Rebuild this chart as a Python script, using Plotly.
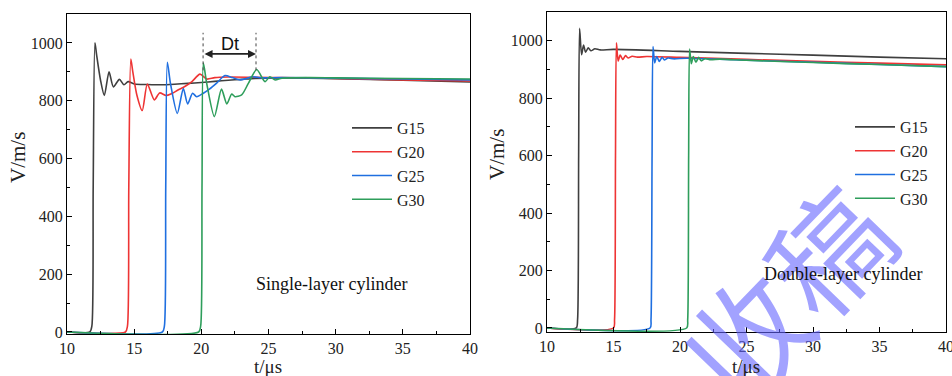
import plotly.graph_objects as go

# ---------------- data ----------------
# Single-layer cylinder
s_g15_t = [10, 11.7, 11.85, 11.95, 12.08, 12.2, 12.5, 12.78, 13.13, 13.45, 13.9, 14.24, 14.55, 15.0, 16, 17, 18, 19, 20, 21, 22, 23, 24, 26, 28, 30, 35, 40]
s_g15_v = [0, 0, 20, 500, 1000, 960, 870, 818, 900, 848, 874, 855, 866, 858, 856, 855, 857, 860, 863, 867, 871, 874, 877, 879, 878, 876, 871, 865]

s_g20_t = [10, 14.35, 14.5, 14.6, 14.75, 14.9, 15.2, 15.6, 15.98, 16.5, 16.9, 17.37, 17.8, 18.26, 18.8, 19.3, 19.9, 20.4, 21, 22, 24, 26, 30, 35, 40]
s_g20_v = [0, 0, 20, 500, 944, 900, 820, 766, 858, 803, 827, 818, 825, 837, 850, 866, 892, 875, 880, 882, 881, 880, 877, 872, 868]

s_g25_t = [10, 17.1, 17.25, 17.35, 17.47, 17.7, 18.21, 18.66, 18.98, 19.35, 19.65, 20.15, 20.6, 21.14, 21.76, 22.3, 22.88, 23.3, 23.75, 24.5, 26, 30, 35, 40]
s_g25_v = [0, 0, 20, 500, 933, 860, 756, 842, 789, 826, 814, 826, 840, 861, 887, 880, 872, 876, 883, 879, 880, 878, 875, 872]

s_g30_t = [10, 19.8, 19.95, 20.05, 20.15, 20.4, 20.97, 21.5, 21.9, 22.26, 22.5, 23.0, 23.5, 24.12, 24.74, 25.1, 25.5, 26, 28, 30, 35, 40]
s_g30_v = [0, 0, 20, 500, 930, 860, 745, 840, 789, 823, 814, 820, 860, 908, 866, 883, 872, 878, 880, 879, 877, 875]

# Double-layer cylinder
d_g15_t = [10, 12.2, 12.3, 12.38, 12.45, 12.6, 12.75, 12.9, 13.1, 13.3, 13.6, 14, 15, 20, 25, 30, 35, 40]
d_g15_v = [0, 0, 30, 600, 1043, 951, 985, 960, 975, 965, 972, 968, 970, 963, 956, 950, 943, 937]

d_g20_t = [10, 15.0, 15.08, 15.15, 15.22, 15.35, 15.5, 15.7, 15.9, 16.1, 16.4, 16.8, 17.5, 20, 25, 30, 35, 40]
d_g20_v = [0, 0, 30, 600, 993, 929, 950, 935, 948, 940, 946, 943, 945, 942, 935, 928, 922, 916]

d_g25_t = [10, 17.75, 17.82, 17.9, 17.97, 18.1, 18.25, 18.45, 18.65, 18.85, 19.1, 19.5, 20.5, 25, 30, 35, 40]
d_g25_v = [0, 0, 30, 600, 980, 923, 945, 928, 942, 933, 940, 937, 939, 932, 925, 917, 910]

d_g30_t = [10, 20.5, 20.58, 20.65, 20.72, 20.85, 21.0, 21.2, 21.4, 21.6, 21.9, 22.3, 23, 25, 30, 35, 40]
d_g30_v = [0, 0, 30, 600, 971, 920, 945, 925, 942, 930, 938, 934, 936, 932, 924, 917, 910]

names = ["G15", "G20", "G25", "G30"]
colors = ["#3f3f3f", "#ee3434", "#1f6fe0", "#2e9e5b"]

dt_start, dt_end = 20.13, 24.07   # Dt marker positions (µs)

x_ticks = [10, 15, 20, 25, 30, 35, 40]
y_ticks = [0, 200, 400, 600, 800, 1000]

# ---------------- figure ----------------
FONT = "'Liberation Serif', 'Times New Roman', Times, serif"
W, H = 952, 376
fig = go.Figure()

single = [(s_g15_t, s_g15_v), (s_g20_t, s_g20_v), (s_g25_t, s_g25_v), (s_g30_t, s_g30_v)]
double = [(d_g15_t, d_g15_v), (d_g20_t, d_g20_v), (d_g25_t, d_g25_v), (d_g30_t, d_g30_v)]

for (t, v), n, c in zip(single, names, colors):
    fig.add_trace(go.Scatter(x=t, y=v, name=n, mode="lines",
                             line=dict(color=c, width=1.6, shape="spline", smoothing=0.7),
                             xaxis="x", yaxis="y", legend="legend"))
for (t, v), n, c in zip(double, names, colors):
    fig.add_trace(go.Scatter(x=t, y=v, name=n, mode="lines",
                             line=dict(color=c, width=1.6, shape="spline", smoothing=0.7),
                             xaxis="x2", yaxis="y2", legend="legend2"))

def xax(domain, anchor):
    return dict(domain=domain, anchor=anchor, range=[10, 40], tickvals=x_ticks, automargin=False,
                ticklabeloverflow="allow",
                ticks="inside", ticklen=5, tickcolor="black", showline=True, mirror=True,
                linecolor="black", linewidth=1.3, showgrid=False, zeroline=False,
                tickfont=dict(family=FONT, size=16, color="#222"),
                minor=dict(dtick=2.5, tick0=10, ticks="inside", ticklen=3, tickcolor="black", showgrid=False))

def yax(domain, anchor, rng):
    return dict(domain=domain, anchor=anchor, range=rng, tickvals=y_ticks, automargin=False,
                ticklabeloverflow="allow",
                ticks="inside", ticklen=5, tickcolor="black", showline=True, mirror=True,
                linecolor="black", linewidth=1.3, showgrid=False, zeroline=False,
                tickfont=dict(family=FONT, size=16, color="#222"),
                minor=dict(dtick=100, tick0=0, ticks="inside", ticklen=3, tickcolor="black", showgrid=False))

fig.update_layout(
    width=W, height=H, margin=dict(l=0, r=0, t=0, b=0, autoexpand=False),
    paper_bgcolor="white", plot_bgcolor="white",
    xaxis=xax([67 / W, 470 / W], "y"),
    yaxis=yax([1 - 334 / H, 1 - 14 / H], "x", [-7, 1100]),
    xaxis2=xax([547 / W, 946 / W], "y2"),
    yaxis2=yax([1 - 332 / H, 1 - 12 / H], "x2", [-14, 1100]),
    legend=dict(x=347 / W, y=1 - 111 / H, xanchor="left", yanchor="top",
                bgcolor="rgba(0,0,0,0)", font=dict(family=FONT, size=16, color="#222"),
                itemwidth=40, tracegroupgap=0),
    legend2=dict(x=850 / W, y=1 - 110 / H, xanchor="left", yanchor="top",
                 bgcolor="rgba(0,0,0,0)", font=dict(family=FONT, size=16, color="#222"),
                 itemwidth=40, tracegroupgap=0),
)

# Dt marker
for xv in (dt_start, dt_end):
    fig.add_shape(type="line", xref="x", yref="y", x0=xv, x1=xv, y0=905, y1=1035,
                  line=dict(color="#444", width=1, dash="dot"))
fig.add_annotation(x=dt_end, y=962, ax=dt_start, ay=962, xref="x", yref="y", axref="x", ayref="y",
                   text="", showarrow=True, arrowhead=2, arrowside="end+start", arrowsize=1,
                   arrowwidth=1.6, arrowcolor="#222")
fig.add_annotation(x=(dt_start + dt_end) / 2, y=997, xref="x", yref="y", text="Dt", showarrow=False,
                   font=dict(family="Liberation Sans", size=18, color="#111"))

# watermark
fig.add_annotation(x=784 / W, y=1 - 290 / H, xref="paper", yref="paper", xanchor="center", yanchor="middle",
                   text="收稿", showarrow=False, textangle=-46,
                   font=dict(family="Noto Sans CJK SC", size=118, color="rgba(100,100,255,0.6)"))

# panel labels
fig.add_annotation(x=23.9, y=166, xref="x", yref="y", xanchor="left", text="Single-layer cylinder",
                   showarrow=False, font=dict(family=FONT, size=18, color="#111"))
fig.add_annotation(x=26.2, y=187, xref="x2", yref="y2", xanchor="left", text="Double-layer cylinder",
                   showarrow=False, font=dict(family=FONT, size=18, color="#111"))

# axis titles
for xp, yp in ((18, 158), (497, 155)):
    fig.add_annotation(x=xp / W, y=1 - yp / H, xref="paper", yref="paper", xanchor="center", yanchor="middle",
                       text="V/m/s", textangle=-90, showarrow=False,
                       font=dict(family=FONT, size=21, color="#222"))
for xp in (268, 746):
    fig.add_annotation(x=xp / W, y=1 - 366 / H, xref="paper", yref="paper", xanchor="center", yanchor="middle",
                       text="t/μs", showarrow=False, font=dict(family=FONT, size=19, color="#222"))

fig.write_html("out.html")
